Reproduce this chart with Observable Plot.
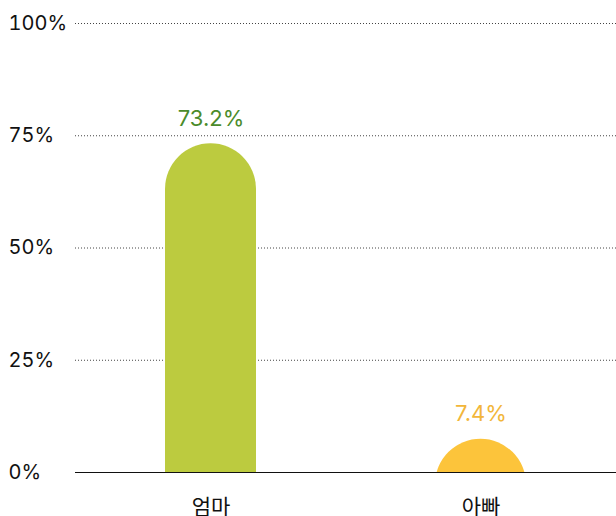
<!DOCTYPE html>
<html><head><meta charset="utf-8">
<script src="https://cdn.jsdelivr.net/npm/d3@7"></script>
<script src="https://cdn.jsdelivr.net/npm/@observablehq/plot@0.6"></script>
<style>
body{margin:0;background:#fff;}
svg{font-family:Inter,"Noto Sans CJK KR",sans-serif;}
</style></head>
<body><div id="chart"></div>
<script>
const categories = ["엄마", "아빠"];
const values = [73.2, 7.4];
const barColors = ["#bccb3f", "#fcc43b"];
const labelColors = ["#4b8b2b", "#f2b63a"];
const yTicks = [0, 25, 50, 75, 100];

const data = categories.map((c, i) => ({cat: c, value: values[i], bar: barColors[i], label: labelColors[i]}));

const chart = Plot.plot({
  width: 616,
  height: 516,
  marginTop: 23,
  marginBottom: 44,
  marginLeft: 75,
  marginRight: 0,
  style: {fontSize: "20px", fontFamily: 'Inter,"Noto Sans CJK KR",sans-serif', color: "#111", background: "#fff"},
  x: {domain: categories, paddingInner: 0.664, paddingOuter: 0.332, label: null},
  y: {domain: [0, 100], label: null},
  marks: [
    Plot.gridY(yTicks, {stroke: "#444", strokeOpacity: 1, strokeDasharray: "1,2"}),
    Plot.axisY(yTicks, {tickSize: 0, tickPadding: 67, textAnchor: "start", tickFormat: d => d + "%", fill: "#111", fontSize: 20, label: null}),
    Plot.axisX({tickSize: 0, tickPadding: 27, fill: "#111", fontSize: 21, label: null}),
    Plot.barY(data, {x: "cat", y: "value", fill: "bar", rx: 45.5, insetBottom: -120, clip: true}),
    Plot.text(data, {x: "cat", y: "value", text: d => d.value.toFixed(1) + "%", fill: "label", dy: -25, fontSize: 22, stroke: "white", strokeWidth: 16, paintOrder: "stroke"}),
    Plot.ruleY([0], {stroke: "#111", strokeWidth: 1})
  ]
});
document.getElementById("chart").append(chart);
</script></body></html>
